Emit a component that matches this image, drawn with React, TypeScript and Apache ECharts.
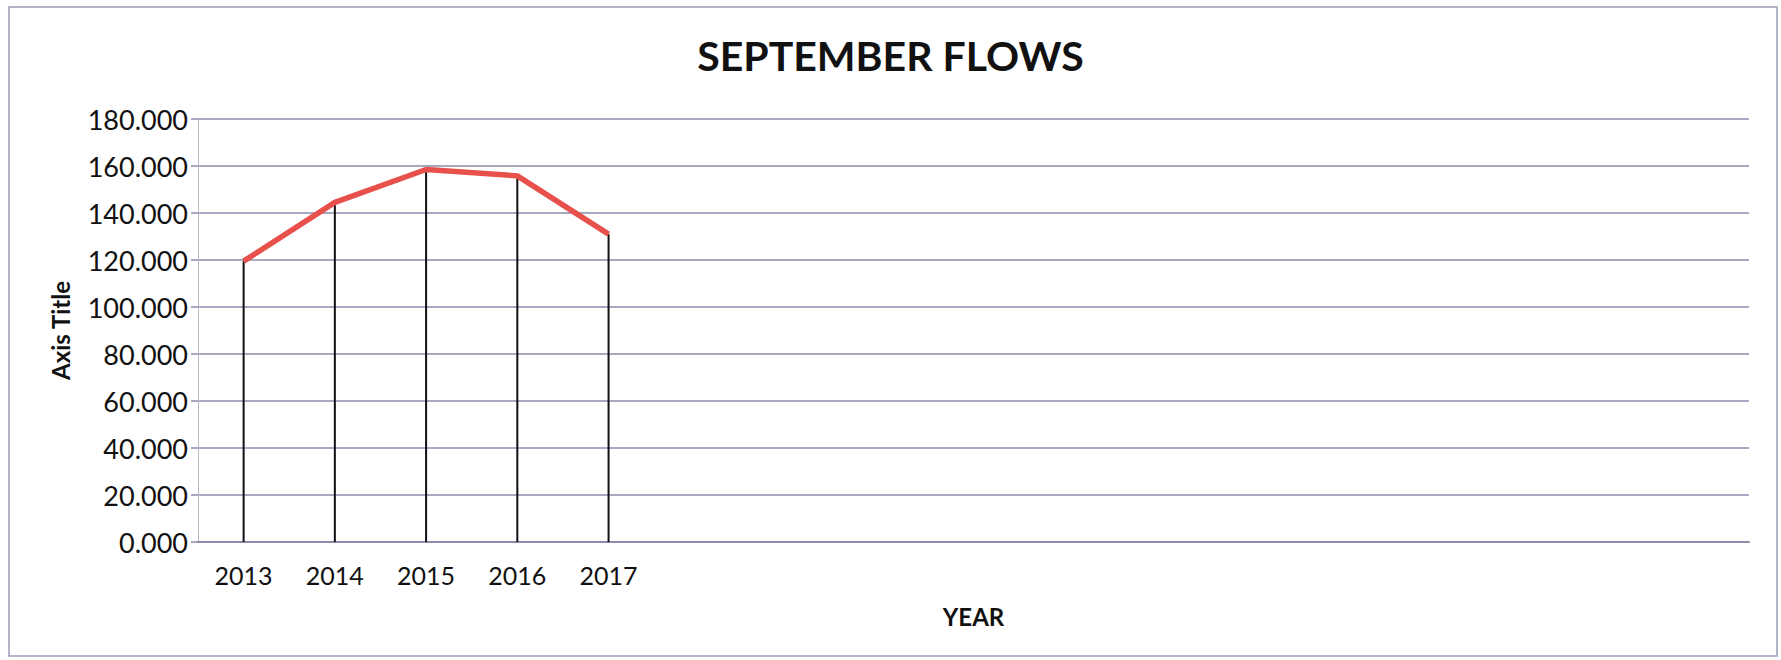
import React, { useEffect, useRef } from "react";
import * as echarts from "echarts";

const years = ["2013", "2014", "2015", "2016", "2017", "", "", "", "", "", "", "", "", "", "", "", ""];
const flows = [119.5, 144.5, 158.5, 155.8, 131.0];
const yTicks = { min: 0, max: 180, interval: 20 };

const FONT = "Lato, 'Open Sans', sans-serif";

export default function App() {
  const ref = useRef<HTMLDivElement>(null);
  useEffect(() => {
    document.body.style.margin = "0";
    const chart = echarts.init(ref.current!, null, { renderer: "svg" });
    chart.setOption({
      animation: false,
      backgroundColor: "#ffffff",
      title: {
        text: "SEPTEMBER FLOWS",
        left: "center",
        top: 30,
        textStyle: { fontFamily: FONT, fontSize: 41, fontWeight: "bold", color: "#111" },
      },
      graphic: [
        {
          type: "rect",
          shape: { x: 9, y: 7, width: 1768, height: 649 },
          style: { fill: "none", stroke: "#9a9cb8", lineWidth: 1.5 },
          silent: true,
        },
      ],
      grid: { left: 198, right: 32, top: 119, bottom: 118, containLabel: false },
      xAxis: {
        type: "category",
        data: years,
        boundaryGap: true,
        name: "YEAR",
        nameLocation: "middle",
        nameGap: 62,
        nameTextStyle: { fontFamily: FONT, fontSize: 24, fontWeight: "bold", color: "#111" },
        axisLine: { show: true, lineStyle: { color: "#8a8cab", width: 2 } },
        axisTick: { show: false },
        axisLabel: { fontFamily: FONT, fontSize: 25, color: "#111", margin: 20, interval: 0 },
        splitLine: { show: false },
      },
      yAxis: {
        type: "value",
        min: yTicks.min,
        max: yTicks.max,
        interval: yTicks.interval,
        name: "Axis Title",
        nameLocation: "middle",
        nameGap: 126,
        nameTextStyle: { fontFamily: FONT, fontSize: 24, fontWeight: "bold", color: "#111" },
        axisLine: { show: true, lineStyle: { color: "#b8b8c4", width: 1 } },
        axisTick: { show: true, length: 7, lineStyle: { color: "#8a8cab", width: 1.5 } },
        axisLabel: {
          fontFamily: FONT,
          fontSize: 27,
          color: "#111",
          margin: 10,
          formatter: (v: number) => v.toFixed(3),
        },
        splitLine: { show: true, lineStyle: { color: "#8a8cab", width: 1.5 } },
      },
      series: [
        {
          type: "bar",
          data: flows,
          barWidth: 2,
          itemStyle: { color: "#111" },
          silent: true,
          z: 2,
        },
        {
          type: "line",
          data: flows,
          symbol: "none",
          lineStyle: { color: "#e8504c", width: 5.5 },
          z: 3,
        },
      ],
    });
    return () => chart.dispose();
  }, []);
  return <div ref={ref} style={{ width: 1781, height: 660 }} />;
}
